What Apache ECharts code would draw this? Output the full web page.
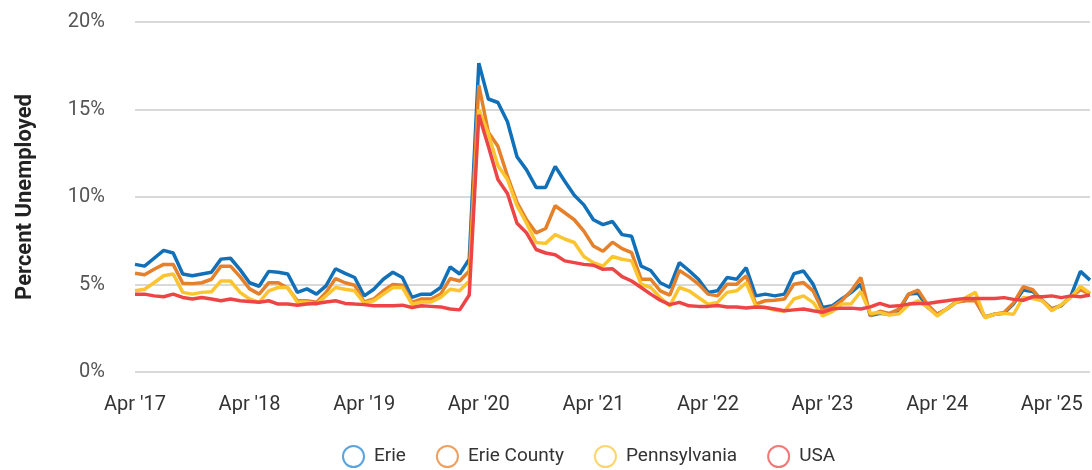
<!DOCTYPE html>
<html>
<head>
<meta charset="utf-8">
<script src="https://cdn.jsdelivr.net/npm/echarts@6/dist/echarts.min.js"></script>
<style>
  html, body { margin: 0; padding: 0; background: #fff; }
  #chart { width: 1092px; height: 470px; }
</style>
</head>
<body>
<div id="chart"></div>
<script>
  // monthly, Apr 2017 .. Aug 2025
  const monthNames = ['Jan', 'Feb', 'Mar', 'Apr', 'May', 'Jun', 'Jul', 'Aug', 'Sep', 'Oct', 'Nov', 'Dec']
  const startYear = 2017
  const startMonth = 3 // Apr
  const monthCount = 101

  const erie = [
    6.15, 6.05, 6.5, 6.95, 6.8, 5.6, 5.5, 5.6, 5.7, 6.45, 6.5, 5.85,
    5.1, 4.9, 5.75, 5.7, 5.6, 4.55, 4.75, 4.45, 4.92, 5.9, 5.64, 5.4,
    4.35, 4.73, 5.3, 5.7, 5.4, 4.26, 4.45, 4.45, 4.83, 6.0, 5.6, 6.45,
    17.65, 15.6, 15.4, 14.3, 12.3, 11.55, 10.55, 10.55, 11.75, 10.9, 10.1, 9.55,
    8.7, 8.42, 8.6, 7.85, 7.76, 6.05, 5.8, 5.1, 4.83, 6.25, 5.8, 5.3,
    4.55, 4.64, 5.4, 5.3, 5.96, 4.35, 4.45, 4.35, 4.45, 5.62, 5.77, 5.02,
    3.69, 3.78, 4.17, 4.55, 5.02, 3.22, 3.35, 3.3, 3.5, 4.45, 4.5, 3.69,
    3.3, 3.6, 4.0, 4.1, 4.1, 3.13, 3.3, 3.35, 3.9, 4.68, 4.6, 4.1,
    3.6, 3.8, 4.35, 5.75, 5.25
  ]
  const erieCounty = [
    5.64, 5.56, 5.87, 6.15, 6.15, 5.07, 5.05, 5.1, 5.3, 6.05, 6.05, 5.45,
    4.75, 4.45, 5.1, 5.1, 4.8, 4.07, 4.07, 3.98, 4.55, 5.34, 5.1, 4.96,
    4.0, 4.17, 4.64, 5.0, 4.96, 3.98, 4.17, 4.17, 4.45, 5.34, 5.2, 5.77,
    16.4, 13.7, 12.9, 11.2, 9.7, 8.7, 7.95, 8.2, 9.5, 9.1, 8.7, 8.05,
    7.2, 6.9, 7.42, 7.05, 6.82, 5.3, 5.3, 4.64, 4.39, 5.8, 5.45, 5.02,
    4.45, 4.35, 5.02, 5.02, 5.5, 3.88, 4.07, 4.1, 4.17, 5.02, 5.11, 4.64,
    3.5, 3.69, 4.07, 4.64, 5.4, 3.22, 3.47, 3.35, 3.6, 4.45, 4.68, 3.85,
    3.3, 3.6, 4.0, 4.07, 4.07, 3.15, 3.3, 3.4, 3.95, 4.87, 4.7, 4.07,
    3.6, 3.8, 4.3, 4.7, 4.45
  ]
  const pennsylvania = [
    4.64, 4.73, 5.1, 5.5, 5.6, 4.55, 4.45, 4.55, 4.58, 5.2, 5.2, 4.55,
    4.17, 3.98, 4.64, 4.83, 4.83, 3.98, 4.0, 3.88, 4.35, 4.83, 4.73, 4.64,
    3.94, 4.07, 4.45, 4.83, 4.83, 3.88, 4.0, 4.0, 4.26, 4.73, 4.64, 5.2,
    15.0, 13.6, 11.8, 11.0, 9.5, 8.5, 7.4, 7.35, 7.85, 7.6, 7.4, 6.6,
    6.25, 6.05, 6.6, 6.44, 6.35, 5.02, 4.83, 4.26, 3.78, 4.83, 4.64, 4.26,
    3.88, 3.98, 4.55, 4.64, 5.1, 3.78, 3.69, 3.54, 3.47, 4.17, 4.35, 3.98,
    3.2, 3.45, 3.88, 3.9, 4.6, 3.35, 3.4, 3.25, 3.33, 3.85, 4.07, 3.7,
    3.2, 3.6, 3.98, 4.26, 4.55, 3.1, 3.3, 3.35, 3.3, 4.26, 4.2, 4.07,
    3.5, 3.85, 4.26, 4.89, 4.5
  ]
  const usa = [
    4.45, 4.45, 4.35, 4.3, 4.45, 4.26, 4.17, 4.26, 4.17, 4.07, 4.17, 4.07,
    4.03, 3.98, 4.07, 3.88, 3.88, 3.82, 3.88, 3.92, 4.0, 4.07, 3.92, 3.88,
    3.85, 3.78, 3.78, 3.78, 3.82, 3.69, 3.78, 3.75, 3.72, 3.6, 3.55, 4.4,
    14.7, 12.9, 11.0, 10.2, 8.5, 7.95, 7.0, 6.8, 6.7, 6.35, 6.25, 6.15,
    6.1, 5.87, 5.9, 5.45, 5.2, 4.83, 4.45, 4.1, 3.85, 3.98, 3.78, 3.75,
    3.75, 3.8, 3.72, 3.72, 3.66, 3.72, 3.69, 3.6, 3.5, 3.55, 3.6, 3.5,
    3.41, 3.6, 3.65, 3.65, 3.6, 3.72, 3.92, 3.75, 3.78, 3.88, 3.92, 3.92,
    4.0, 4.07, 4.15, 4.2, 4.2, 4.2, 4.2, 4.25, 4.15, 4.1, 4.3, 4.3,
    4.35, 4.25, 4.35, 4.3, 4.4
  ]

  const seriesNames = ['Erie', 'Erie County', 'Pennsylvania', 'USA']
  const seriesColors = ['#1170b8', '#e5812a', '#fcc52f', '#ed4545']
  const legendColors = ['#5aa3dc', '#eea060', '#fdd66a', '#f27878']
  const yTicks = [0, 5, 10, 15, 20]

  const categories = []
  for (let i = 0; i < monthCount; i++) {
    const m = (startMonth + i) % 12
    const y = startYear + Math.floor((startMonth + i) / 12)
    categories.push(monthNames[m] + " '" + String(y).slice(2))
  }

  const seriesData = [erie, erieCounty, pennsylvania, usa]

  const chart = echarts.init(document.getElementById('chart'))
  chart.setOption({
    animation: false,
    textStyle: { fontFamily: 'Roboto' },
    grid: {
      left: 135,
      right: 2,
      top: 22,
      bottom: 98
    },
    legend: {
      bottom: 2,
      left: 342,
      padding: 0,
      icon: 'circle',
      itemWidth: 21,
      itemHeight: 21,
      itemGap: 30,
      textStyle: { fontSize: 19, color: '#333', padding: [0, 0, 0, 5] },
      data: seriesNames.map((name, i) => ({
        name,
        itemStyle: { color: 'transparent', borderColor: legendColors[i], borderWidth: 2 }
      }))
    },
    xAxis: {
      type: 'category',
      boundaryGap: false,
      data: categories,
      axisLine: { show: false },
      axisTick: { show: false },
      axisLabel: {
        interval: 11,
        fontSize: 20,
        color: '#333',
        margin: 23
      },
      splitLine: { show: false }
    },
    yAxis: {
      type: 'value',
      min: yTicks[0],
      max: yTicks[yTicks.length - 1],
      interval: 5,
      name: 'Percent Unemployed',
      nameLocation: 'middle',
      nameGap: 99,
      nameTextStyle: { fontSize: 22, fontWeight: 'bold', color: '#222' },
      axisLine: { show: false },
      axisTick: { show: false },
      axisLabel: {
        formatter: '{value}%',
        fontSize: 20,
        color: '#555',
        margin: 30
      },
      splitLine: { lineStyle: { color: '#cccccc', width: 1.5 } }
    },
    series: seriesNames.map((name, i) => ({
      name,
      type: 'line',
      data: seriesData[i],
      showSymbol: false,
      color: seriesColors[i],
      lineStyle: { width: 3.5, color: seriesColors[i] },
      emphasis: { disabled: true }
    }))
  })
</script>
</body>
</html>
